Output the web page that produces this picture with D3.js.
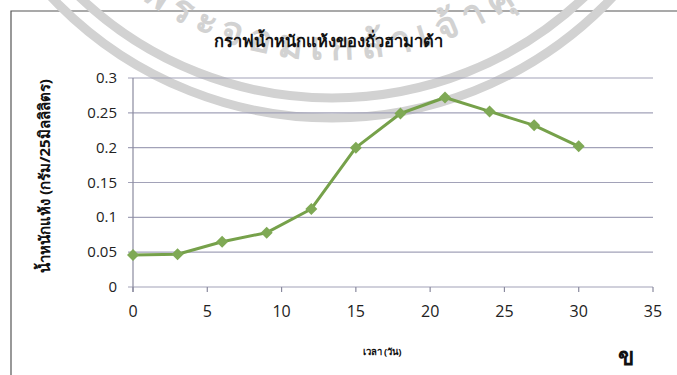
<!DOCTYPE html>
<html><head><meta charset="utf-8">
<script src="https://cdn.jsdelivr.net/npm/d3@7"></script>
<style>body{margin:0;background:#fff}svg{display:block}</style>
</head><body>
<svg id="c" width="677" height="375"></svg>
<script>
const days = [0, 3, 6, 9, 12, 15, 18, 21, 24, 27, 30];
const dryWeight = [0.046, 0.047, 0.065, 0.078, 0.112, 0.200, 0.249, 0.272, 0.252, 0.232, 0.202];
const xTicks = [0, 5, 10, 15, 20, 25, 30, 35];
const yTicks = [0, 0.05, 0.1, 0.15, 0.2, 0.25, 0.3];
const title = "กราฟน้ำหนักแห้งของถั่วฮามาต้า";
const yTitle = "น้ำหนักแห้ง (กรัม/25มิลลิลิตร)";
const xTitle = "เวลา (วัน)";
const mark = "ข";
const watermark = "พระจอมเกล้าเจ้าคุณ";

const svg = d3.select("#c");
const x = d3.scaleLinear().domain([0, 35]).range([133, 653]);
const y = d3.scaleLinear().domain([0, 0.3]).range([287, 78]);

// frame
svg.append("path").attr("d", "M11,375 L11,11 L677,11").attr("fill", "none")
  .attr("stroke", "#555").attr("stroke-width", 1.2);

// watermark arcs
const wm = svg.append("g");
const cx = 332, cy = -268;
[386, 366].forEach(r => {
  wm.append("circle").attr("cx", cx).attr("cy", cy).attr("r", r)
    .attr("fill", "none").attr("stroke", "#d2d2d2").attr("stroke-width", 9);
});
const arcR = 328;
const defs = svg.append("defs");
defs.append("path").attr("id", "wmp")
  .attr("d", `M${cx - arcR},${cy} A${arcR},${arcR} 0 0 0 ${cx + arcR},${cy}`);
wm.append("text").attr("font-family", "Noto Sans, DejaVu Sans, sans-serif")
  .attr("font-size", 38).attr("font-weight", "bold").attr("fill", "#d2d2d2")
  .attr("letter-spacing", 8)
  .append("textPath").attr("href", "#wmp").attr("startOffset", "52%")
  .attr("text-anchor", "middle").text(watermark);

// grid
svg.append("g").selectAll("line").data(yTicks).join("line")
  .attr("x1", 128).attr("x2", 653).attr("y1", d => y(d)).attr("y2", d => y(d))
  .attr("stroke", "#a2a2b8").attr("stroke-width", 1.2);

// y axis line
svg.append("line").attr("x1", x(0)).attr("x2", x(0)).attr("y1", y(0.3)).attr("y2", y(0) + 5)
  .attr("stroke", "#8a8a9e").attr("stroke-width", 1.2);
// x ticks
svg.append("g").selectAll("line").data(xTicks).join("line")
  .attr("x1", d => x(d)).attr("x2", d => x(d)).attr("y1", y(0)).attr("y2", y(0) + 5)
  .attr("stroke", "#8a8a9e").attr("stroke-width", 1.2);

const tf = "Open Sans, Liberation Sans, sans-serif";
svg.append("g").selectAll("text").data(yTicks).join("text")
  .attr("x", 117).attr("y", d => y(d) + 5).attr("text-anchor", "end")
  .attr("font-family", tf).attr("font-size", 15).attr("fill", "#222")
  .text(d => String(+d.toFixed(2)));
svg.append("g").selectAll("text").data(xTicks).join("text")
  .attr("x", d => x(d)).attr("y", 317).attr("text-anchor", "middle")
  .attr("font-family", tf).attr("font-size", 16).attr("fill", "#222")
  .text(d => d);

// line
const line = d3.line().x((d, i) => x(days[i])).y(d => y(d));
svg.append("path").datum(dryWeight).attr("d", line).attr("fill", "none")
  .attr("stroke", "#76a14a").attr("stroke-width", 3).attr("stroke-linejoin", "round");
svg.append("g").selectAll("path").data(dryWeight).join("path")
  .attr("d", d3.symbol(d3.symbolSquare, 72))
  .attr("transform", (d, i) => `translate(${x(days[i])},${y(d)}) rotate(45)`)
  .attr("fill", "#7fa955");

// titles
svg.append("text").attr("x", 328).attr("y", 47).attr("text-anchor", "middle")
  .attr("font-family", "Noto Sans, DejaVu Sans, sans-serif").attr("font-weight", "bold")
  .attr("font-size", 16.5).attr("fill", "#111").text(title);
svg.append("text").attr("transform", "translate(50,176) rotate(-90)").attr("text-anchor", "middle")
  .attr("font-family", "Noto Sans, DejaVu Sans, sans-serif").attr("font-weight", "bold")
  .attr("font-size", 15).attr("fill", "#111").text(yTitle);
svg.append("text").attr("x", 382).attr("y", 355).attr("text-anchor", "middle")
  .attr("font-family", "Noto Sans, DejaVu Sans, sans-serif").attr("font-weight", "bold")
  .attr("font-size", 9.5).attr("fill", "#111").text(xTitle);
svg.append("text").attr("x", 626).attr("y", 365).attr("text-anchor", "middle")
  .attr("font-family", "Noto Serif, DejaVu Serif, serif").attr("font-weight", "bold")
  .attr("font-size", 24).attr("fill", "#111").text(mark);
</script>
</body></html>
